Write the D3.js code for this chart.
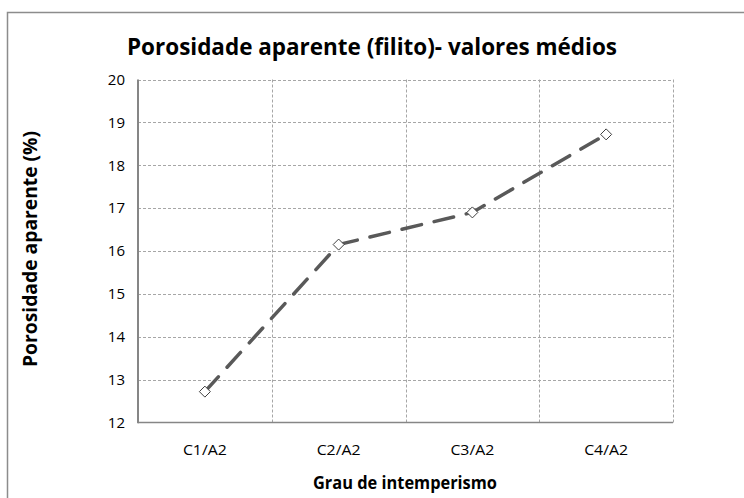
<!DOCTYPE html>
<html>
<head>
<meta charset="utf-8">
<script src="https://cdn.jsdelivr.net/npm/d3@7"></script>
<style>
  html, body { margin: 0; padding: 0; background: #fff; }
  svg { display: block; }
  text { font-family: "Open Sans", "Noto Sans", "DejaVu Sans", sans-serif; fill: #000; }
</style>
</head>
<body>
<svg id="chart" width="744" height="498"></svg>
<script>
// Mean apparent porosity of phyllite by weathering grade
const categories = ["C1/A2", "C2/A2", "C3/A2", "C4/A2"];
const porosity = [12.72, 16.15, 16.9, 18.72];
const yTicks = [12, 13, 14, 15, 16, 17, 18, 19, 20];
const titleText = "Porosidade aparente (filito)- valores médios";
const xTitle = "Grau de intemperismo";
const yTitle = "Porosidade aparente (%)";

const svg = d3.select("#chart");
const plot = { left: 138, right: 673, top: 79.5, bottom: 422.5 };

// chart frame (runs past the right and bottom edges)
svg.append("rect")
  .attr("x", 7.5).attr("y", 12.5)
  .attr("width", 760).attr("height", 500)
  .attr("fill", "#fff")
  .attr("stroke", "#8c8c8c")
  .attr("stroke-width", 1.5);

const x = d3.scaleBand().domain(categories).range([plot.left, plot.right]).padding(0);
const y = d3.scaleLinear().domain([12, 20]).range([plot.bottom, plot.top]);

// horizontal gridlines
svg.append("g").selectAll("line").data(yTicks.filter(d => d > 12)).join("line")
  .attr("x1", plot.left).attr("x2", plot.right)
  .attr("y1", d => Math.round(y(d)) + 0.5).attr("y2", d => Math.round(y(d)) + 0.5)
  .attr("stroke", "#a6a6a6").attr("stroke-width", 1)
  .attr("stroke-dasharray", "3,2");

// vertical gridlines at category boundaries
const bounds = categories.map(c => x(c) + x.bandwidth());
svg.append("g").selectAll("line").data(bounds).join("line")
  .attr("x1", d => Math.round(d) + 0.5).attr("x2", d => Math.round(d) + 0.5)
  .attr("y1", plot.top).attr("y2", plot.bottom)
  .attr("stroke", "#a6a6a6").attr("stroke-width", 1)
  .attr("stroke-dasharray", "3,2");

// axes
const yAxis = d3.axisLeft(y).tickValues(yTicks).tickSize(0).tickPadding(13);
const gy = svg.append("g").attr("transform", `translate(${plot.left},0)`).call(yAxis);
gy.select(".domain").remove();
gy.selectAll("text").attr("font-size", 15).attr("fill", "#000")
  .style("font-family", '"Open Sans", sans-serif');

const xAxis = d3.axisBottom(x).tickSize(0).tickPadding(22);
const gx = svg.append("g").attr("transform", `translate(0,${plot.bottom})`).call(xAxis);
gx.select(".domain").remove();
gx.selectAll("text").attr("font-size", 15).attr("fill", "#000")
  .attr("textLength", 44).attr("lengthAdjust", "spacingAndGlyphs")
  .style("font-family", '"Open Sans", sans-serif');

svg.append("line")
  .attr("x1", plot.left).attr("x2", plot.right)
  .attr("y1", plot.bottom).attr("y2", plot.bottom)
  .attr("stroke", "#868686").attr("stroke-width", 1.5);
svg.append("line")
  .attr("x1", plot.left).attr("x2", plot.left)
  .attr("y1", plot.top).attr("y2", plot.bottom + 0.75)
  .attr("stroke", "#868686").attr("stroke-width", 2);

// data line
const pts = categories.map((c, i) => [x(c) + x.bandwidth() / 2, y(porosity[i])]);
svg.append("path")
  .attr("d", d3.line()(pts))
  .attr("fill", "none")
  .attr("stroke", "#595959")
  .attr("stroke-width", 3.5)
  .attr("stroke-linecap", "round")
  .attr("stroke-dasharray", "20,13");

// diamond markers
svg.append("g").selectAll("path").data(pts).join("path")
  .attr("transform", d => `translate(${d[0]},${d[1]})`)
  .attr("d", "M0,-5.5L5.5,0L0,5.5L-5.5,0Z")
  .attr("fill", "#fff")
  .attr("stroke", "#404040")
  .attr("stroke-width", 1);

// titles
svg.append("text")
  .attr("x", 372).attr("y", 55)
  .attr("text-anchor", "middle")
  .attr("font-size", 24).attr("font-weight", "bold")
  .attr("textLength", 490).attr("lengthAdjust", "spacingAndGlyphs")
  .text(titleText);

svg.append("text")
  .attr("x", 405).attr("y", 489)
  .attr("text-anchor", "middle")
  .attr("font-size", 18).attr("font-weight", "bold")
  .attr("textLength", 184).attr("lengthAdjust", "spacingAndGlyphs")
  .text(xTitle);

svg.append("text")
  .attr("transform", "translate(37,249) rotate(-90)")
  .attr("text-anchor", "middle")
  .attr("font-size", 19).attr("font-weight", "bold")
  .attr("textLength", 236).attr("lengthAdjust", "spacingAndGlyphs")
  .text(yTitle);
</script>
</body>
</html>
